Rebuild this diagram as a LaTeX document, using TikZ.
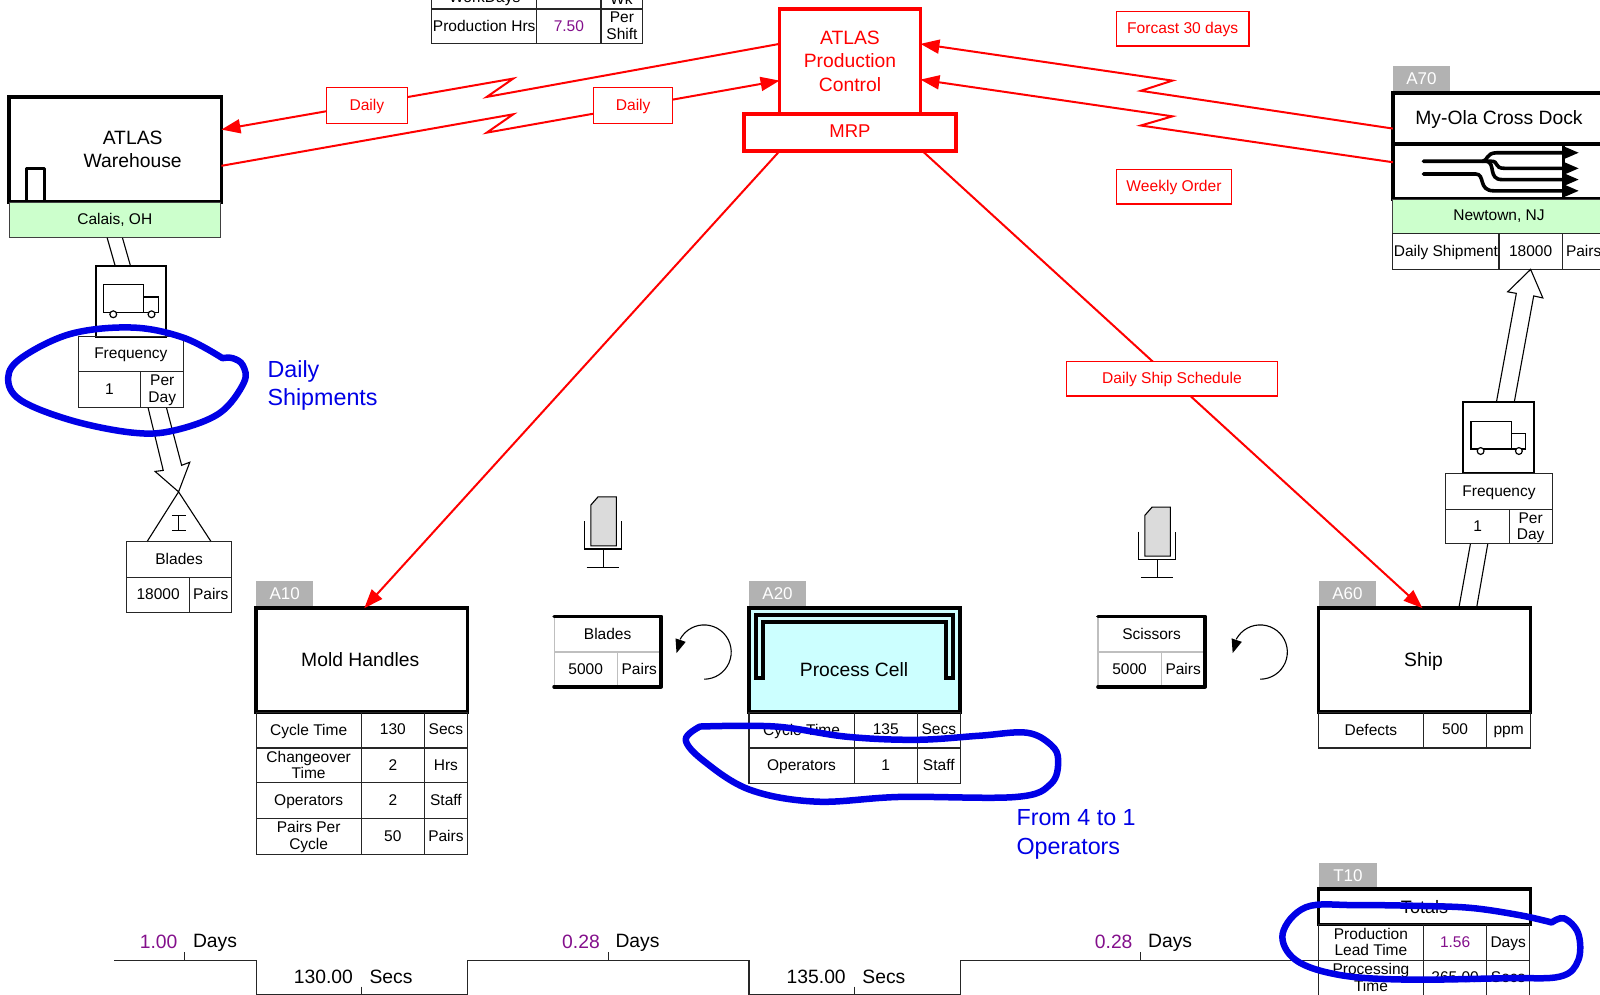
\documentclass[tikz,border=0pt]{standalone}
\usepackage{fontspec}
\setmainfont{Liberation Sans}
\usetikzlibrary{fit,arrows.meta}
\definecolor{vsmred}{HTML}{FF0000}
\definecolor{vsmblue}{HTML}{0000E6}
\definecolor{vsmpurple}{HTML}{84108C}
\definecolor{tagrey}{HTML}{B2B2B2}
\definecolor{siteg}{HTML}{CCFFCC}
\definecolor{cellc}{HTML}{CCFFFF}
\tikzset{
  fitbox/.style={inner sep=0pt,outer sep=0pt,rectangle},
  thin box/.style={fitbox,draw=black!85,line width=1.1pt},
  heavy box/.style={fitbox,draw=black,line width=3.6pt,fill=white},
  redheavy/.style={fitbox,draw=vsmred,line width=3.6pt,fill=white},
  redlabel/.style={fitbox,draw=vsmred,line width=1.2pt,fill=white},
  tagbox/.style={fitbox,fill=tagrey},
  sitebox/.style={fitbox,draw=black!75,line width=1pt,fill=siteg},
  level/.style={execute at begin node=\vphantom{Ay},execute at end node=\vphantom{Ay}},
  txt/.style={level,yshift=-1pt,inner sep=0pt,font=\fontsize{15.5}{16.5}\selectfont,align=center},
  bigt/.style={level,yshift=-2pt,inner sep=0pt,font=\fontsize{19.3}{23.4}\selectfont,align=center},
  redt/.style={level,yshift=-1pt,inner sep=0pt,text=vsmred,font=\fontsize{15.6}{18}\selectfont},
  tagt/.style={inner sep=0pt,text=white,font=\fontsize{17}{18}\selectfont},
  note/.style={level,yshift=-2pt,inner sep=0pt,text=vsmblue,anchor=west,font=\fontsize{23.3}{24}\selectfont},
  purp/.style={text=vsmpurple},
  redline/.style={draw=vsmred,line width=2pt,line join=miter},
  redarrow/.style={redline,-{Triangle[length=19pt,width=14pt]}},
  redthin/.style={draw=vsmred,line width=2pt,-{Triangle[length=19pt,width=14pt]}},
  pushline/.style={draw=black,fill=white,line width=1.1pt,line join=miter},
  loopline/.style={draw=vsmblue,line width=6.5pt,line cap=round,line join=round,smooth,tension=0.6},
  heavyline/.style={draw=black,line width=3.6pt,line cap=round,line join=round},
  flowline/.style={draw=black,line width=3.6pt,line cap=round},
  rail/.style={draw=black!85,line width=1.2pt},
}
% fit box: [style]{name}{x1}{y1}{x2}{y2}
\newcommand\bx[6][thin box]{\node[#1,fit={(#3,#4)(#5,#6)}] (#2) {};}
% table cell: [text style]{name}{x1}{y1}{x2}{y2}{text}
\newcommand\cl[7][txt]{\node[thin box,fit={(#3,#4)(#5,#6)}] (#2) {};\node[#1] (#2t) at (#2.center) {#7};}
% gray cell of a supermarket
\newcommand\gcl[6]{\node[fitbox,draw=black!25,line width=1.1pt,fit={(#2,#3)(#4,#5)}] (#1) {};\node[txt] (#1t) at (#1.center) {#6};}
% truck icon
\newcommand\truck[2]{\begin{scope}[shift={(#1,#2)},draw=black,line width=1.2pt]
  \draw (0,0) rectangle (39.5,27);
  \draw (39.5,12) rectangle (53.5,27);
  \draw[fill=white] (9.5,29) circle (3.4pt);
  \draw[fill=white] (47,29) circle (3.4pt);
\end{scope}}
% operator icon
\newcommand\opicon[2]{\begin{scope}[shift={(#1,#2)},line width=1.1pt]
  \draw[fill=black!14] (6,8) -- (13,0) -- (31,0) -- (31,48) -- (6,48) -- cycle;
  \draw (0,24) -- (0,51) -- (36,51) -- (36,24);
  \draw (18,51) -- (18,69);
  \draw (2,69) -- (34,69);
\end{scope}}
\begin{document}
\begin{tikzpicture}[x=1.0204pt,y=-1.0204pt]
\useasboundingbox[fill=white] (0,0) rectangle (1568,975);

% --- top table
\bx{wa}{423}{-26}{526}{8.8}
\bx{wb}{526}{-26}{589}{8.8}
\bx{wc}{589}{-26}{630}{8.8}
\node[txt,anchor=base] (wat) at (475,1) {WorkDays};
\node[txt,anchor=base] (wct) at (609,3) {Wk};
\cl{pa}{423}{8.8}{526}{43}{Production Hrs}
\cl[txt,purp]{pb}{526}{8.8}{589}{43}{7.50}
\cl{pc}{589}{8.8}{630}{43}{Per\\Shift}

% --- production control
\bx[redheavy]{ctrl}{764}{9}{902}{112}
\node[bigt,text=vsmred] (ctrlt) at (833,60) {ATLAS\\Production\\Control};
\bx[redheavy]{mrp}{729}{112}{937}{148}
\node[level,inner sep=0pt,text=vsmred,font=\fontsize{18.5}{20}\selectfont] (mrpt) at (833,130) {MRP};

% --- warehouse
\bx[heavy box]{wh}{9}{95}{217}{198}
\node[bigt] (wht) at (130,146) {ATLAS\\Warehouse};
\draw[heavyline] (26,198) -- (26,165) -- (43.5,165) -- (43.5,198);
\bx[sitebox]{calais}{9}{198}{216}{233}
\node[txt] (calaist) at (calais.center) {Calais, OH};

% --- cross dock
\bx[tagbox]{a70}{1365}{65}{1421}{89}
\node[tagt] (a70t) at (a70.center) {A70};
\bx[heavy box]{dock}{1365}{91}{1580}{141}
\node[bigt] (dockt) at (1469,115) {My-Ola Cross Dock};
\bx[heavy box]{dockb}{1365}{141}{1580}{195}
\draw[flowline] (1395,158) -- (1453,158) .. controls (1458,158) and (1456,149.7) .. (1467,149.7) -- (1532,149.7);
\draw[flowline] (1453,158) -- (1461,158) .. controls (1470,158) and (1463,165) .. (1475,165) -- (1532,165);
\draw[flowline] (1457,158) .. controls (1466,160) and (1458,176) .. (1472,176) -- (1532,176);
\draw[flowline] (1395,170.5) -- (1446,170.5) .. controls (1456,170.5) and (1448,187) .. (1464,187) -- (1532,187);
\draw[black,line width=2.5pt] (1532,143) -- (1532,194);
\foreach \yy/\nn in {149.7/ah,165/bh,176/ch,187/dh}{
  \fill[black] (1532,\yy-6.5) -- (1547,\yy) -- (1532,\yy+6.5) -- cycle;
}
\bx[sitebox]{newt}{1365}{196}{1580}{229}
\node[txt] (newtt) at (1469,211) {Newtown, NJ};
\cl{dsa}{1365}{229}{1469}{264}{Daily Shipment}
\cl{dsb}{1469}{229}{1531}{264}{18000}
\cl{dsc}{1531}{229}{1573}{264}{Pairs}

% --- process boxes
\bx[tagbox]{a10}{251}{569}{307}{595}
\node[tagt] (a10t) at (a10.center) {A10};
\bx[heavy box]{mold}{251}{596}{458}{698}
\node[bigt] (moldt) at (353,646) {Mold Handles};
\cl{m1a}{251}{698}{354}{733}{Cycle Time}
\cl{m1b}{354}{698}{416}{733}{130}
\cl{m1c}{416}{698}{458}{733}{Secs}
\cl{m2a}{251}{733}{354}{767}{Changeover\\Time}
\cl{m2b}{354}{733}{416}{767}{2}
\cl{m2c}{416}{733}{458}{767}{Hrs}
\cl{m3a}{251}{767}{354}{802}{Operators}
\cl{m3b}{354}{767}{416}{802}{2}
\cl{m3c}{416}{767}{458}{802}{Staff}
\cl{m4a}{251}{802}{354}{837}{Pairs Per\\Cycle}
\cl{m4b}{354}{802}{416}{837}{50}
\cl{m4c}{416}{802}{458}{837}{Pairs}

\bx[tagbox]{a20}{734}{569.5}{790}{595}
\node[tagt] (a20t) at (a20.center) {A20};
\bx[heavy box,fill=cellc]{cell}{734}{596}{941}{698}
\draw[heavyline,fill=cellc,line width=4pt,line join=miter] (740.6,664.5) -- (740.6,602.4) -- (933.6,602.4) -- (933.6,664.5) -- (927.4,664.5) -- (927.4,610) -- (747.4,610) -- (747.4,664.5) -- cycle;
\node[bigt] (cellt) at (837,656) {Process Cell};
\cl{c1a}{734}{698}{837}{733}{Cycle Time}
\cl{c1b}{837}{698}{899}{733}{135}
\cl{c1c}{899}{698}{941}{733}{Secs}
\cl{c2a}{734}{733}{837}{768}{Operators}
\cl{c2b}{837}{733}{899}{768}{1}
\cl{c2c}{899}{733}{941}{768}{Staff}

\bx[tagbox]{a60}{1293}{569.5}{1348}{595}
\node[tagt] (a60t) at (a60.center) {A60};
\bx[heavy box]{ship}{1292}{596}{1500}{698}
\node[bigt] (shipt) at (1395,646) {Ship};
\cl{s1a}{1292}{698}{1395}{733}{Defects}
\cl{s1b}{1395}{698}{1457}{733}{500}
\cl{s1c}{1457}{698}{1500}{733}{ppm}

% --- shipment arrows and trucks
\draw[pushline] (105,233) -- (113,261) (120,233) -- (128,261);
\bx[fitbox,draw=black,line width=2pt,fill=white]{tk1}{94}{261}{163}{330}
\truck{101.5}{279}
\draw[pushline,fill=none] (145,399) -- (160,461) -- (152,462) -- (175,482) -- (186,453) -- (178,456) -- (163,399);
\cl{f1a}{76.5}{330}{180}{364}{Frequency}
\cl{f1b}{76.5}{364}{138}{399}{1}
\cl{f1c}{138}{364}{180}{399}{Per\\Day}

\draw[pushline] (144,531) -- (175,482) -- (207,531);
\draw[line width=1.1pt] (175,505) -- (175,520) (168.5,505) -- (182,505) (168.5,520) -- (182,520);
\cl{i1a}{124}{531}{227}{566}{Blades}
\cl{i1b}{124}{566}{186}{600}{18000}
\cl{i1c}{186}{566}{227}{600}{Pairs}

\draw[pushline] (1441,533) -- (1430,594) (1458,533) -- (1447,596);
\bx[fitbox,draw=black,line width=2pt,fill=white]{tk2}{1434}{394}{1503}{464}
\truck{1441.5}{413}
\draw[pushline,fill=none] (1466.5,394) -- (1486,287.5) -- (1477.5,286) -- (1500,264) -- (1512,292) -- (1503,290) -- (1484,394);
\cl{f2a}{1417}{464}{1521}{499}{Frequency}
\cl{f2b}{1417}{499}{1479}{533}{1}
\cl{f2c}{1479}{499}{1521}{533}{Per\\Day}

% --- red information flows
\draw[redarrow] (ctrl.west |- 0,43) -- (477,95) -- (503,77) -- (wh.east |- 0,127);
\draw[redarrow] (wh.east |- 0,162.5) -- (503,112) -- (477,130) -- (ctrl.west |- 0,79);
\draw[redarrow] (dock.west |- 0,126) -- (1118,89) -- (1149,79) -- (ctrl.east |- 0,43);
\draw[redarrow] (dockb.west |- 0,159) -- (1118,123) -- (1149,114) -- (ctrl.east |- 0,78);
\draw[redthin] (764,0 |- mrp.south) -- (357,0 |- mold.north);
\draw[redthin] (904,0 |- mrp.south) -- (1394,0 |- ship.north);
\bx[redlabel]{d1}{320}{86}{399}{121}
\node[redt] (d1t) at (d1.center) {Daily};
\bx[redlabel]{d2}{582}{86}{659}{121}
\node[redt] (d2t) at (d2.center) {Daily};
\bx[redlabel]{fc}{1094}{11}{1224}{45}
\node[redt] (fct) at (fc.center) {Forcast 30 days};
\bx[redlabel]{wo}{1094}{166}{1207}{200}
\node[redt] (wot) at (wo.center) {Weekly Order};
\bx[redlabel]{dss}{1045}{354}{1252}{388}
\node[redt] (dsst) at (dss.center) {Daily Ship Schedule};

% --- supermarkets
\opicon{573}{487}
\gcl{b1a}{543}{604}{648}{639}{Blades}
\gcl{b1b}{543}{639}{605}{673}{5000}
\gcl{b1c}{605}{639}{648}{673}{Pairs}
\node[fitbox,fit={(543,604)(648,673)}] (b1) {};
\draw[heavyline] (b1.north west) -- (b1.north east) -- (b1.south east) -- (b1.south west);
\draw[line width=1.1pt] plot[smooth,samples=30,domain=90:-152] ({690+26.6*cos(\x)},{639+26.6*sin(\x)});
\fill[black] (663,640) -- (662,625.6) -- (672,629) -- cycle;

\opicon{1116}{497}
\gcl{b2a}{1076}{604}{1181}{639}{Scissors}
\gcl{b2b}{1076}{639}{1138}{673}{5000}
\gcl{b2c}{1138}{639}{1181}{673}{Pairs}
\node[fitbox,fit={(1076,604)(1181,673)}] (b2) {};
\draw[heavyline] (b2.north west) -- (b2.north east) -- (b2.south east) -- (b2.south west);
\draw[line width=1.1pt] plot[smooth,samples=30,domain=90:-152] ({1235+26.6*cos(\x)},{639+26.6*sin(\x)});
\fill[black] (1208,640) -- (1207,625.6) -- (1217,629) -- cycle;

% --- time line
\draw[rail] (112,941) -- (251,941) -- (251,974.6) -- (458,974.6) -- (458,941) -- (734,941) -- (734,974.6) -- (941,974.6) -- (941,941) -- (1292,941);
\draw[rail,line width=1pt] (181,933) -- (181,941) (596,933) -- (596,941) (1118,933) -- (1118,941) (354,967) -- (354,974) (837,967) -- (837,974);
\node[bigt,purp,anchor=east] (l1) at (174,922.5) {1.00};
\node[bigt,anchor=west] (l2) at (189,922.5) {Days};
\node[bigt,anchor=east] (l3) at (346,957) {130.00};
\node[bigt,anchor=west] (l4) at (362,957) {Secs};
\node[bigt,purp,anchor=east] (l5) at (588,922.5) {0.28};
\node[bigt,anchor=west] (l6) at (603,922.5) {Days};
\node[bigt,anchor=east] (l7) at (829,957) {135.00};
\node[bigt,anchor=west] (l8) at (845,957) {Secs};
\node[bigt,purp,anchor=east] (l9) at (1110,922.5) {0.28};
\node[bigt,anchor=west] (l10) at (1125,922.5) {Days};

% --- totals
\bx[tagbox]{t10}{1293}{846}{1349}{871}
\node[tagt] (t10t) at (t10.center) {T10};
\bx[heavy box]{tot}{1292}{871}{1500}{906}
\node[bigt,font=\fontsize{18}{20}\selectfont] (tott) at (tot.center) {Totals};
\cl{t1a}{1292}{906}{1395}{941}{Production\\Lead Time}
\cl[txt,purp]{t1b}{1395}{906}{1457}{941}{1.56}
\cl{t1c}{1457}{906}{1499}{941}{Days}
\cl{t2a}{1292}{941}{1395}{976}{Processing\\Time}
\cl{t2b}{1395}{941}{1457}{976}{265.00}
\cl{t2c}{1457}{941}{1499}{976}{Secs}

% --- blue annotations
\draw[loopline] plot coordinates {(218,351) (180,331) (130,321) (70,327) (22,350) (8,370) (20,392) (70,412) (130,424) (170,422) (215,405) (239,375) (238,358) (228,351) (218,351)};
\node[note] (n1) at (262,362) {Daily};
\node[note] (n2) at (262,390) {Shipments};
\draw[loopline] plot coordinates {(686,712) (760,712) (830,722) (898,725) (960,721) (1006,718) (1030,730) (1037,745) (1030,768) (996,781) (882,781) (800,785.6) (735,774) (690,746) (672,725) (686,712)};
\node[note] (n3) at (996,802) {From 4 to 1};
\node[note] (n4) at (996,830) {Operators};
\draw[loopline] plot coordinates {(1520.6,904) (1490,897) (1444,890) (1400,888) (1329,887) (1280,889) (1257,915) (1270,941) (1313,955.5) (1378,960) (1476,958.6) (1529,957) (1546.7,941) (1546.7,915) (1533,900) (1520.6,904)};
\end{tikzpicture}
\end{document}
